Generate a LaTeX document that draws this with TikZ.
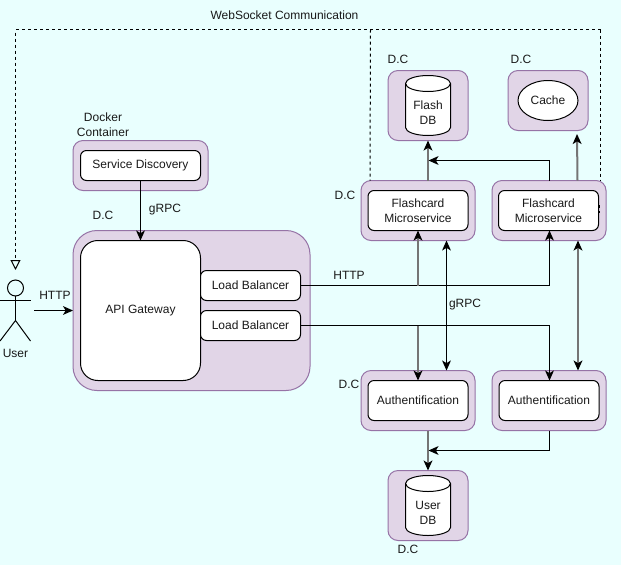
\documentclass[tikz,border=0pt]{standalone}
\usepackage{fontspec}
\setmainfont{Liberation Sans}
\usetikzlibrary{arrows.meta,calc,shapes.geometric}
\definecolor{bgc}{HTML}{E9FFFE}
\definecolor{contf}{HTML}{E1D5E7}
\definecolor{conts}{HTML}{9673A6}
\definecolor{softln}{HTML}{757575}
\tikzset{
  x=.75pt,y=-.75pt,
  sz/.style n args={2}{minimum width=#1*.75pt,minimum height=#2*.75pt,inner sep=0pt,outer sep=0pt},
  basetxt/.style={font=\fontsize{9}{11.2}\selectfont,align=center,text=black!90},
  cont/.style={draw=conts,fill=contf,line width=.75pt,rounded corners=7.5pt},
  contbig/.style={draw=conts,fill=contf,line width=.75pt,rounded corners=18pt},
  innerbox/.style={basetxt,draw=black,fill=white,line width=.75pt,rounded corners=4.5pt},
  lbl/.style={basetxt,inner sep=0pt},
  tipk/.tip={Stealth[length=7.5pt,width=6.6pt,inset=2pt,color=black]},
  conn/.style={draw=black,line width=.75pt,-tipk},
  connb/.style={draw=black,line width=.75pt,tipk-tipk},
  conng/.style={draw=softln,line width=1.5pt,-tipk},
  conngb/.style={draw=softln,line width=1.5pt,tipk-tipk},
  plainln/.style={draw=black,line width=.75pt},
  wsdash/.style={draw=black,line width=.75pt,dash pattern=on 2.25pt off 2.25pt},
  cylsty/.style={draw=black,fill=white,line width=.75pt},
}
\newcommand{\dbcyl}[2]{%
  \path[cylsty] (#1-22.5,#2+8) -- (#1-22.5,#2+52)
    arc[start angle=180,end angle=360,x radius=16.875pt,y radius=6pt]
    -- (#1+22.5,#2+8)
    arc[start angle=0,end angle=180,x radius=16.875pt,y radius=6pt] -- cycle;
  \path[cylsty,fill=none] (#1-22.5,#2+8)
    arc[start angle=180,end angle=360,x radius=16.875pt,y radius=6pt];
}
\begin{document}
\begin{tikzpicture}
\useasboundingbox[fill=bgc] (0,0) rectangle (621,565);

% containers
\node[cont,sz={135}{50}] (csd) at (140.5,165.5) {};
\node[contbig,sz={237}{160}] (cgw) at (191.5,310.5) {};
\node[cont,sz={114}{60}] (cf1) at (418,210.5) {};
\node[cont,sz={114}{60}] (cf2) at (549,210.5) {};
\node[cont,sz={114}{60}] (ca1) at (418,400.5) {};
\node[cont,sz={114}{60}] (ca2) at (549,400.5) {};
\node[cont,sz={80}{70}] (cfdb) at (428,105.5) {};
\node[cont,sz={80}{60}] (cch) at (548,100.5) {};
\node[cont,sz={80}{70}] (cudb) at (428,505.5) {};

% inner boxes
\node[innerbox,sz={120}{30}] (sd) at (140.5,165.5) {Service Discovery};
\node[innerbox,sz={120}{140},rounded corners=13pt] (api) at (140.5,310.5) {API Gateway};
\node[innerbox,sz={100}{30}] (lb1) at (250.5,285.5) {Load Balancer};
\node[innerbox,sz={100}{30}] (lb2) at (250.5,325.5) {Load Balancer};
\node[innerbox,sz={100}{40}] (f1) at (418,210.5) {Flashcard\\Microservice};
\node[innerbox,sz={100}{40}] (f2) at (548.5,210.5) {Flashcard\\Microservice};
\node[innerbox,sz={100}{40}] (a1) at (418,400.5) {Authentification};
\node[innerbox,sz={100}{40}] (a2) at (549,400.5) {Authentification};
\node[basetxt,draw=black,fill=white,line width=.75pt,ellipse,sz={60}{40}] (cache) at (548,100.5) {};
\node[lbl] (cachet) at (548,100) {Cache};
\dbcyl{428}{75.5}
\dbcyl{428}{475.5}
\node[lbl] (fdb) at (428,112.5) {Flash\\DB};
\node[lbl] (udb) at (428,512.5) {User\\DB};

% labels
\node[lbl] (lws) at (284.5,15) {WebSocket Communication};
\node[lbl] (ld1) at (398,59.5) {D.C};
\node[lbl] (ld2) at (521,59.5) {D.C};
\node[lbl] (ld3) at (345,195) {D.C};
\node[lbl] (ld4) at (103,215) {D.C};
\node[lbl] (ld5) at (349,384.5) {D.C};
\node[lbl] (ld6) at (408,549.5) {D.C};
\node[lbl] (ldock) at (103,125) {Docker\\Container};
\node[lbl] (lg1) at (165,210) {gRPC};
\node[lbl] (lh1) at (55,295) {HTTP};
\node[lbl] (lh2) at (349,275) {HTTP};
\node[lbl] (lg2) at (465,304.5) {gRPC};
\node[lbl] (luser) at (15.5,353.5) {User};

% actor
\node[draw=black,fill=bgc,line width=.75pt,circle,sz={16}{16}] (head) at (15.5,288) {};
\coordinate (body) at (15.5,320.5);
\draw[plainln] (head.south) -- (body);
\draw[plainln] (0,300.5) -- (30.5,300.5);
\draw[plainln] (0,341) -- (body) -- (30.5,341);

% dashed
\coordinate (wsa) at (15.5,29.5);
\coordinate (wsb) at (600.5,29.5);
\coordinate (wsc) at (600.5,180.5);
\coordinate (wsd) at (370.5,29.5);
\coordinate (wse) at (370,180.5);
\coordinate (wsf) at (15.5,270);
\coordinate (wsg) at (599.5,205);
\coordinate (wsh) at (599.5,213);
\draw[wsdash,-{Triangle[open,length=7.5pt,width=7.5pt,fill=bgc]}] (wsb) -- (wsa) -- (wsf);
\draw[wsdash] (wsb) -- (wsc);
\draw[wsdash] (wsd) -- (wse);
\draw[wsdash] (wsg) -- (wsh);

% connectors
\coordinate (uout) at (34,310.5);
\draw[conn] (uout) -- (cgw.west);
\draw[conn] (sd.south) -- (api.north);

\coordinate (j1) at (418,285.5);
\coordinate (j2) at (549.5,285.5);
\coordinate (j3) at (418,325.5);
\coordinate (j4) at (549.5,325.5);
\draw[plainln] (lb1.east) -- (j2);
\draw[conng] (j1) -- (f1.south);
\draw[conn] (j2) -- (f2.south -| j2);
\draw[plainln] (lb2.east) -- (j4);
\draw[conng] (j3) -- (a1.north);
\draw[conn] (j4) -- (a2.north -| j4);

\coordinate (d1t) at (446.5,240.5);
\coordinate (d1b) at (446.5,370.5);
\coordinate (d2t) at (578,240.5);
\coordinate (d2b) at (578,370.5);
\draw[connb] (d1t) -- (d1b);
\draw[conngb] (d2t) -- (d2b);

\coordinate (fup) at (428,180.5);
\draw[conng] (fup) -- (cfdb.south);
\coordinate (f2o) at (549.5,180.5);
\coordinate (f2k) at (549.5,160.5);
\coordinate (f2j) at (428.5,160.5);
\draw[conn] (f2o) -- (f2k) -- (f2j);
\coordinate (f2c) at (577.5,180.5);
\coordinate (f2d) at (577,134);
\draw[conng] (f2c) -- (f2d);

\coordinate (adn) at (428,430.5);
\draw[conng] (adn) -- (cudb.north);
\coordinate (a2o) at (549.5,430.5);
\coordinate (a2k) at (549.5,450.5);
\coordinate (a2j) at (428.5,450.5);
\draw[conn] (a2o) -- (a2k) -- (a2j);
\end{tikzpicture}
\end{document}
